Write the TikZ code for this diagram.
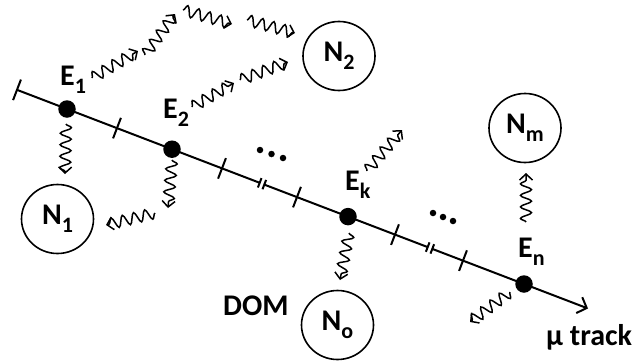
\documentclass[tikz,border=0pt]{standalone}
\usepackage{fontspec}
\setmainfont{Carlito}
\usetikzlibrary{decorations.pathmorphing, arrows.meta, shapes.geometric, calc}

% letter with a lowered, smaller index
\newcommand{\sublab}[2]{#1\raisebox{-8pt}{\fontsize{22}{22}\selectfont #2}}

\begin{document}
\begin{tikzpicture}[x=1pt, y=-1pt,
  track/.style={line width=2pt},
  wave/.style={line width=1.5pt, decorate,
    decoration={snake, amplitude=5.5pt, segment length=11.5pt, post length=2pt},
    -{Straight Barb[length=6pt, width=13pt, line width=1.5pt]}},
  hit/.style={circle, fill=black, minimum size=17.5pt, inner sep=0pt},
  pmt/.style={ellipse, draw, line width=1.6pt, minimum width=72pt, minimum height=69pt,
    inner sep=0pt, font=\fontsize{30}{30}\selectfont\bfseries},
  lbl/.style={font=\fontsize{30}{30}\selectfont\bfseries, inner sep=0pt, anchor=base west},
  dotmark/.style={circle, fill=black, minimum size=6.5pt, inner sep=0pt},
]
\useasboundingbox (0,0) rectangle (633,362);

% track geometry
\coordinate (S) at (17,89.85);
\coordinate (T) at (588,308.5);
\coordinate (t1) at (117,128.1);
\coordinate (t2) at (222,168.4);
\coordinate (t3) at (297,197.1);
\coordinate (t4) at (395,234.6);
\coordinate (t5) at (463,260.6);
\coordinate (b1a) at (259.7,182.8);
\coordinate (b1b) at (264.3,184.6);
\coordinate (b2a) at (427.7,247.1);
\coordinate (b2b) at (432.3,248.9);

\draw[track] (S) -- (b1a);
\draw[track] (b1b) -- (b2a);
\draw[track, -{Straight Barb[length=8pt, width=17pt, line width=2pt]}] (b2b) -- (T);

% full-length ticks
\foreach \p in {S,t1,t2,t3,t4,t5}
  \draw[track] ($(\p)+(3.93,-10.27)$) -- ($(\p)-(3.93,-10.27)$);
% short ticks marking the breaks
\foreach \p in {b1a,b1b,b2a,b2b}
  \draw[track] ($(\p)+(1.8,-4.7)$) -- ($(\p)-(1.8,-4.7)$);

% emission points
\node[hit] (E1) at (67,109) {};
\node[hit] (E2) at (172,149.2) {};
\node[hit] (Ek) at (348,216.6) {};
\node[hit] (En) at (524,284) {};

% ellipses along the track
\node[dotmark] (d1) at (260,150) {};
\node[dotmark] (d2) at (271.5,154) {};
\node[dotmark] (d3) at (283,158) {};
\node[dotmark] (d4) at (433,213) {};
\node[dotmark] (d5) at (443,217) {};
\node[dotmark] (d6) at (453,221) {};

% optical modules
\node[pmt] (N1) at (57.5,219) {\sublab{N}{1}};
\node[pmt] (N2) at (339,56) {\sublab{N}{2}};
\node[pmt] (Nm) at (525,128) {\sublab{N}{m}};
\node[pmt] (No) at (337.5,325) {\sublab{N}{o}};

% labels
\node[lbl] (lE1) at (60,85) {\sublab{E}{1}};
\node[lbl] (lE2) at (163,118) {\sublab{E}{2}};
\node[lbl] (lEk) at (345,190) {\sublab{E}{k}};
\node[lbl] (lEn) at (518,257) {\sublab{E}{n}};
\node[lbl] (lDOM) at (223,315) {DOM};
\node[lbl] (lmu) at (546,345) {μ track};

% photon paths
\coordinate (a0) at (92,78);   \coordinate (a1) at (138,51);
\coordinate (b0) at (145,55);  \coordinate (b1) at (175,14);
\coordinate (c0) at (183,10);  \coordinate (c1) at (232,24);
\coordinate (d0) at (247,20);  \coordinate (d1) at (295,33);
\coordinate (e0) at (192,107); \coordinate (e1) at (234,83);
\coordinate (f0) at (240,80);  \coordinate (f1) at (288,62);
\coordinate (g0) at (66,124);  \coordinate (g1) at (65,174);
\coordinate (h0) at (172,160); \coordinate (h1) at (168,208);
\coordinate (i0) at (155,213); \coordinate (i1) at (106,225);
\coordinate (j0) at (367,171); \coordinate (j1) at (402,130);
\coordinate (k0) at (349,233); \coordinate (k1) at (340,280);
\coordinate (l0) at (526,222); \coordinate (l1) at (526,173);
\coordinate (m0) at (510,292); \coordinate (m1) at (470,322);

\foreach \w in {a,b,c,d,e,f,g,h,i,j,k,l,m}
  \draw[wave] (\w0) -- (\w1);
\end{tikzpicture}
\end{document}
